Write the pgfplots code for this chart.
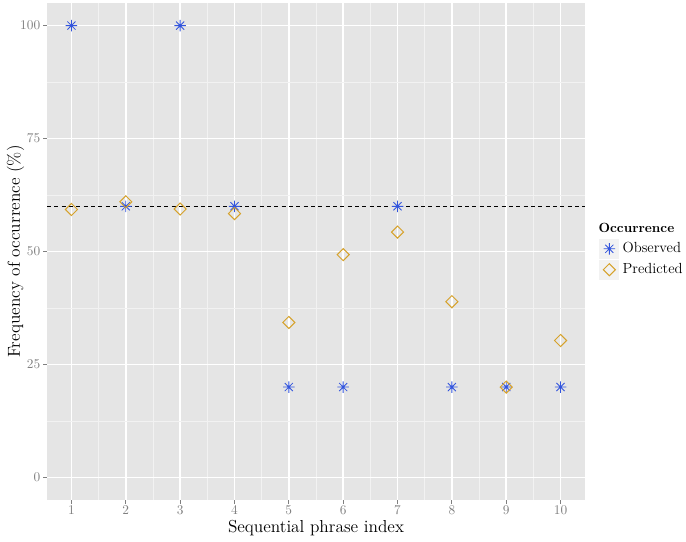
\documentclass[border=0pt]{standalone}
\usepackage{pgfplots}
\usepackage{pgfplotstable}
\pgfplotsset{compat=1.18}
\definecolor{panelbg}{HTML}{E5E5E5}
\definecolor{minorgrid}{HTML}{F2F2F2}
\definecolor{axgray}{HTML}{7F7F7F}
\definecolor{obsblue}{HTML}{3355DD}
\definecolor{predgold}{HTML}{D6A22B}
\definecolor{keybg}{HTML}{F2F2F2}
\pgfdeclareplotmark{star8}{%
 \pgfpathmoveto{\pgfqpoint{-\pgfplotmarksize}{0pt}}\pgfpathlineto{\pgfqpoint{\pgfplotmarksize}{0pt}}%
 \pgfpathmoveto{\pgfqpoint{0pt}{-\pgfplotmarksize}}\pgfpathlineto{\pgfqpoint{0pt}{\pgfplotmarksize}}%
 \pgfpathmoveto{\pgfqpoint{-.7071\pgfplotmarksize}{-.7071\pgfplotmarksize}}\pgfpathlineto{\pgfqpoint{.7071\pgfplotmarksize}{.7071\pgfplotmarksize}}%
 \pgfpathmoveto{\pgfqpoint{-.7071\pgfplotmarksize}{.7071\pgfplotmarksize}}\pgfpathlineto{\pgfqpoint{.7071\pgfplotmarksize}{-.7071\pgfplotmarksize}}%
 \pgfusepathqstroke}
\pgfplotsset{keyimg/.style={legend image code/.code={\fill[keybg] (0pt,-7.125pt) rectangle (14.25pt,7.125pt); \draw[##1] plot coordinates {(7.125pt,0pt)};}}}
\pgfplotstableread{
x obs pred
1 100 59.3
2 60 61.0
3 100 59.4
4 60 58.4
5 20 34.3
6 20 49.3
7 60 54.3
8 20 38.9
9 20 20.0
10 20 30.3
}\datatab
\begin{document}
\begin{tikzpicture}
\begin{axis}[
 name=ax,
 scale only axis, width=403.5pt, height=372.75pt,
 xmin=0.55, xmax=10.45, ymin=-5, ymax=105,
 axis background/.style={fill=panelbg},
 axis line style={draw=none},
 xtick={1,...,10}, ytick={0,25,50,75,100},
 minor xtick={1.5,2.5,...,9.5}, minor ytick={12.5,37.5,62.5,87.5},
 grid=both,
 major grid style={white, line width=1.1pt},
 minor grid style={minorgrid, line width=0.55pt},
 tick align=outside, xtick pos=lower, ytick pos=left,
 major tick length=3pt, minor tick length=0pt,
 tick style={axgray, line width=0.6pt},
 tick label style={font=\fontsize{10}{11}\selectfont, text=axgray, inner sep=0pt},
 xticklabel style={anchor=north, yshift=-1.5pt},
 yticklabel style={anchor=east, xshift=-1.9pt},
 xlabel={Sequential phrase index},
 ylabel={Frequency of occurrence (\%)},
 label style={font=\fontsize{13}{15}\selectfont},
 xlabel style={at={(axis description cs:0.5,-0.0644)}, anchor=base},
 ylabel style={at={(axis description cs:-0.0502,0.5)}, anchor=base},
 legend style={at={(axis description cs:1.0266,0.4843)}, anchor=west, draw=none, fill=none,
   inner sep=0pt, outer sep=0pt, row sep=0.75pt, column sep=2.5pt,
   nodes={inner sep=0pt, text=black}, font=\fontsize{11}{12}\selectfont, cells={anchor=west}},
]
\addplot[only marks, mark=star8, mark size=4.3pt, color=obsblue, line width=0.65pt, keyimg]
  table[x=x, y=obs] {\datatab};
\addlegendentry{Observed}
\addplot[only marks, mark=square, mark size=3.2pt, mark options={rotate=45}, color=predgold, line width=0.75pt, keyimg]
  table[x=x, y=pred] {\datatab};
\addlegendentry{Predicted}
\addplot[black, line width=0.8pt, dash pattern=on 3pt off 2.5pt, forget plot] coordinates {(0.55,60) (10.45,60)};
\end{axis}
\node[anchor=base west, font=\bfseries\fontsize{10}{12}\selectfont, inner sep=0pt] at ([shift={(413.5pt,200.8pt)}]ax.south west) {Occurrence};
\pgfresetboundingbox
\path[use as bounding box] ([shift={(-35.25pt,-30.75pt)}]ax.south west) rectangle ([shift={(75.75pt,2.25pt)}]ax.north east);
\end{tikzpicture}
\end{document}
